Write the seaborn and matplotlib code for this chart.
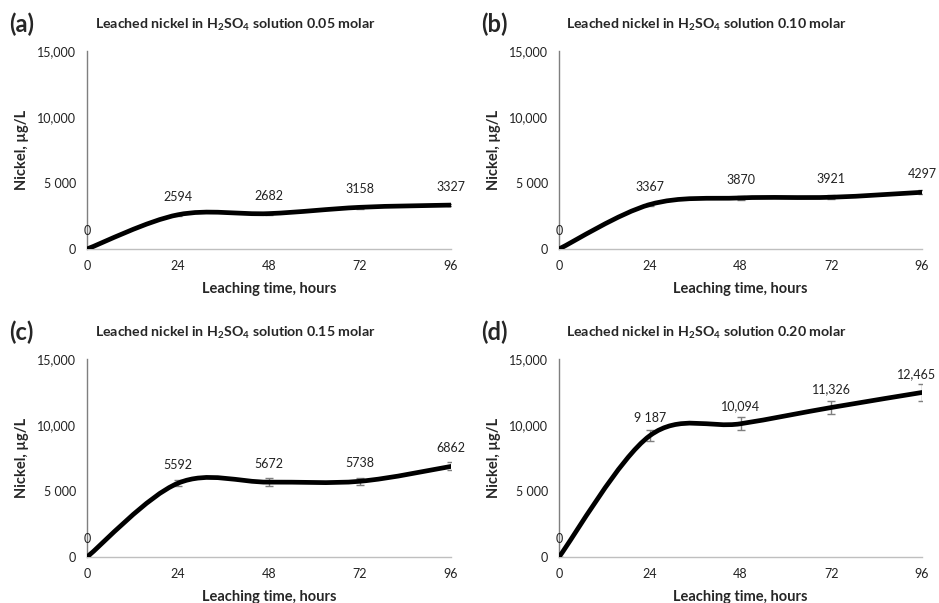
import numpy as np
import seaborn as sns
import matplotlib.pyplot as plt
from matplotlib.path import Path
from matplotlib.patches import PathPatch

# leaching time and measured nickel (ug/L) for each acid strength
hours = [0, 24, 48, 72, 96]
molar = ["0.05", "0.10", "0.15", "0.20"]
panels = ["(a)", "(b)", "(c)", "(d)"]

ni_005 = [0, 2594, 2682, 3158, 3327]
ni_010 = [0, 3367, 3870, 3921, 4297]
ni_015 = [0, 5592, 5672, 5738, 6862]
ni_020 = [0, 9187, 10094, 11326, 12465]

err_005 = [0, 70, 70, 90, 90]
err_010 = [0, 110, 140, 140, 160]
err_015 = [0, 230, 280, 270, 300]
err_020 = [0, 400, 480, 520, 620]

lab_005 = ["0", "2594", "2682", "3158", "3327"]
lab_010 = ["0", "3367", "3870", "3921", "4297"]
lab_015 = ["0", "5592", "5672", "5738", "6862"]
lab_020 = ["0", "9 187", "10,094", "11,326", "12,465"]

yticks = [0, 5000, 10000, 15000]
ytick_labels = ["0", "5 000", "10,000", "15,000"]
xticks = [0, 24, 48, 72, 96]

series = [(ni_005, err_005, lab_005), (ni_010, err_010, lab_010),
          (ni_015, err_015, lab_015), (ni_020, err_020, lab_020)]

sns.set_theme(style="white")
plt.rcParams["font.family"] = ["Lato", "DejaVu Sans"]
plt.rcParams["mathtext.fontset"] = "custom"
plt.rcParams["mathtext.rm"] = "Lato"
plt.rcParams["mathtext.bf"] = "Lato:bold"


def smooth_path(x, y):
    # Excel-style smoothed line: cubic Bezier through the points
    pts = np.column_stack([x, y]).astype(float)
    n = len(pts)
    verts = [pts[0]]
    codes = [Path.MOVETO]
    for i in range(n - 1):
        p0 = pts[i - 1] if i > 0 else pts[i]
        p1, p2 = pts[i], pts[i + 1]
        p3 = pts[i + 2] if i + 2 < n else pts[i + 1]
        verts += [p1 + (p2 - p0) / 6, p2 - (p3 - p1) / 6, p2]
        codes += [Path.CURVE4] * 3
    return Path(verts, codes)


W, H = 939, 603
fig = plt.figure(figsize=(W / 100, H / 100), dpi=100)

# axes boxes in pixels: left, top, right, bottom
boxes = [(87, 51, 451, 249), (559, 51, 922, 249),
         (87, 359, 451, 557), (559, 359, 922, 557)]

for k, (vals, errs, labs) in enumerate(series):
    l, t, r, b = boxes[k]
    ax = fig.add_axes([l / W, 1 - b / H, (r - l) / W, (b - t) / H])
    ax.errorbar(hours, vals, yerr=errs, fmt="none", ecolor="#7f7f7f",
                elinewidth=1, capsize=3, capthick=1, zorder=2)
    ax.add_patch(PathPatch(smooth_path(hours, vals), facecolor="none",
                           edgecolor="black", lw=3.4, capstyle="round",
                           zorder=3))
    for j, (xv, yv, s) in enumerate(zip(hours, vals, labs)):
        # keep the widest right-hand label inside the figure
        dx = -4 if (k == 3 and j == len(hours) - 1) else 0
        ax.annotate(s, (xv, yv), xytext=(dx, 13), textcoords="offset points",
                    ha="center", va="center", fontsize=9, color="#222222",
                    annotation_clip=False)
    ax.set_xlim(0, 96)
    ax.set_ylim(0, 15000)
    ax.set_xticks(xticks)
    ax.set_yticks(yticks)
    ax.set_yticklabels(ytick_labels)
    ax.tick_params(axis="both", labelsize=9, colors="#222222",
                   length=4, width=1, direction="out", pad=4)
    ax.tick_params(axis="x", color="#7f7f7f")
    ax.tick_params(axis="y", color="#7f7f7f")
    sns.despine(ax=ax)
    ax.spines["left"].set_color("#7f7f7f")
    ax.spines["bottom"].set_color("#bfbfbf")
    ax.spines["left"].set_linewidth(1)
    ax.spines["bottom"].set_linewidth(1)
    ax.set_xlabel("Leaching time, hours", fontsize=10.5, fontweight="bold",
                  labelpad=7)
    ax.set_ylabel("Nickel, \u00b5g/L", fontsize=10.5, fontweight="bold",
                  labelpad=6)

    fig.text(((l + r) / 2 - 34) / W, 1 - (t - 26) / H,
             r"Leached nickel in H$_\mathbf{2}$SO$_\mathbf{4}$ solution "
             + molar[k] + " molar",
             ha="center", va="center", fontsize=10.2, fontweight="bold")
    fig.text((l - 78) / W, 1 - (t - 27) / H, panels[k], ha="left",
             va="center", fontsize=17, fontweight="bold")

fig.savefig("out.png", dpi=100)
